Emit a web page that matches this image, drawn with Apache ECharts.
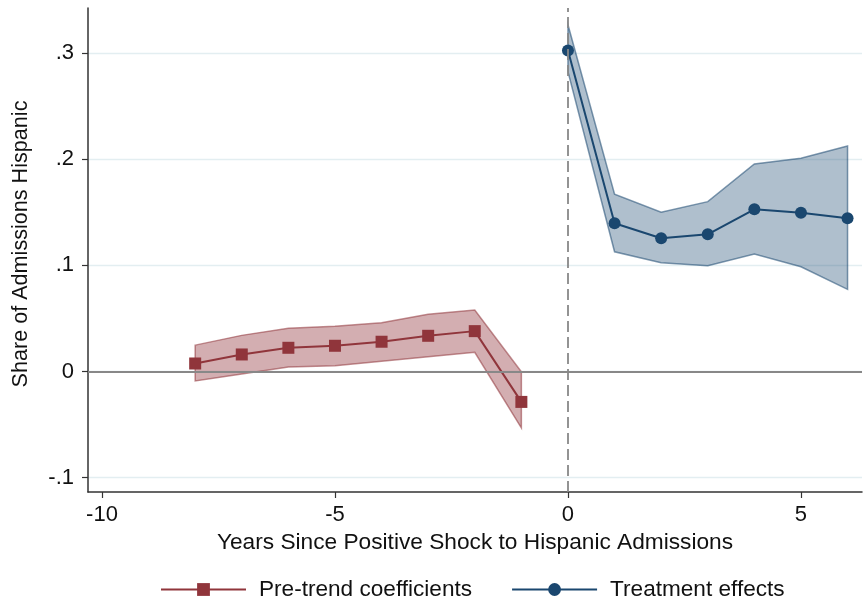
<!DOCTYPE html>
<html>
<head>
<meta charset="utf-8">
<script src="https://cdn.jsdelivr.net/npm/echarts@6/dist/echarts.min.js"></script>
<style>html,body{margin:0;padding:0;background:#fff;}#c{width:868px;height:604px;}</style>
</head>
<body>
<div id="c"></div>
<script>
// Data
var preX = [-8, -7, -6, -5, -4, -3, -2, -1];
var preCoef = [0.0075, 0.016, 0.0223, 0.0242, 0.028, 0.0336, 0.038, -0.0287];
var preUpper = [0.0248, 0.034, 0.0406, 0.0427, 0.0459, 0.0538, 0.0578, -0.0004];
var preLower = [-0.0089, -0.0025, 0.0043, 0.0053, 0.0097, 0.0138, 0.018, -0.0532];

var postX = [0, 1, 2, 3, 4, 5, 6];
var postCoef = [0.3025, 0.1396, 0.1255, 0.1292, 0.1528, 0.1496, 0.1443];
var postUpper = [0.3267, 0.167, 0.150, 0.160, 0.1956, 0.201, 0.2125];
var postLower = [0.2826, 0.1128, 0.1025, 0.0996, 0.1107, 0.0987, 0.0774];

var xTicks = [-10, -5, 0, 5];
var xTickLabels = ['-10', '-5', '0', '5'];
var yTicks = [-0.1, 0, 0.1, 0.2, 0.3];
var yTickLabels = ['-.1', '0', '.1', '.2', '.3'];

var seriesNames = ['Pre-trend coefficients', 'Treatment effects'];

var RED = '#90353b', BLUE = '#1a476f';
var FONT = 'Liberation Sans';

function pairs(xs, ys) { return xs.map(function (x, i) { return [x, ys[i]]; }); }

function bandSeries(name, xs, lo, hi, fill, stroke) {
  return {
    type: 'custom', name: name, silent: true, z: 1,
    data: xs.map(function (x, i) { return [x, lo[i], hi[i]]; }),
    encode: { x: 0, y: [1, 2] },
    renderItem: function (params, api) {
      if (params.dataIndexInside !== 0) return;
      var pts = [];
      for (var i = 0; i < xs.length; i++) pts.push(api.coord([xs[i], hi[i]]));
      for (var j = xs.length - 1; j >= 0; j--) pts.push(api.coord([xs[j], lo[j]]));
      return {
        type: 'polygon',
        shape: { points: pts },
        style: { fill: fill, stroke: stroke, lineWidth: 1.5 }
      };
    }
  };
}

var chart = echarts.init(document.getElementById('c'), null, { renderer: 'canvas' });
chart.setOption({
  animation: false,
  backgroundColor: '#ffffff',
  textStyle: { fontFamily: FONT },
  grid: { left: 88, right: 6, top: 8, bottom: 112, containLabel: false },
  xAxis: {
    type: 'value', min: -10.3, max: 6.31,
    name: 'Years Since Positive Shock to Hispanic Admissions',
    nameLocation: 'middle', nameGap: 34,
    nameTextStyle: { fontSize: 22.7, color: '#111', fontFamily: FONT },
    axisLine: { onZero: false, lineStyle: { color: '#333', width: 1.5 } },
    axisTick: { show: true, length: 6, customValues: xTicks, lineStyle: { color: '#333', width: 1.2 } },
    axisLabel: {
      customValues: xTicks, fontSize: 22, color: '#111', margin: 12, fontFamily: FONT,
      formatter: function (v) { var k = xTicks.indexOf(v); return k >= 0 ? xTickLabels[k] : ''; }
    },
    splitLine: { show: false }
  },
  yAxis: {
    type: 'value', min: -0.1136, max: 0.3425,
    name: 'Share of Admissions Hispanic',
    nameLocation: 'middle', nameGap: 56, nameRotate: 90,
    nameTextStyle: { fontSize: 21.6, color: '#111', fontFamily: FONT, padding: [0, 0, 0, 12] },
    axisLine: { onZero: false, lineStyle: { color: '#333', width: 1.5 } },
    axisTick: { show: true, length: 6, customValues: yTicks, lineStyle: { color: '#333', width: 1.2 } },
    axisLabel: {
      customValues: yTicks, fontSize: 22, color: '#111', margin: 14, fontFamily: FONT,
      formatter: function (v) {
        for (var i = 0; i < yTicks.length; i++) if (Math.abs(yTicks[i] - v) < 1e-9) return yTickLabels[i];
        return '';
      }
    },
    splitLine: { show: true, lineStyle: { color: '#e3eef1', width: 1.3 } }
  },
  legend: {
    data: seriesNames,
    left: 160, top: 578, padding: 0,
    itemWidth: 85, itemHeight: 16, itemGap: 39,
    textStyle: { fontSize: 22.6, color: '#111', fontFamily: FONT, padding: [0, 0, 0, 8] }
  },
  series: [
    bandSeries('preBand', preX, preLower, preUpper, 'rgba(144,53,59,0.4)', 'rgba(144,53,59,0.55)'),
    bandSeries('postBand', postX, postLower, postUpper, 'rgba(26,71,111,0.35)', 'rgba(26,71,111,0.55)'),
    {
      type: 'line', name: seriesNames[0], z: 3,
      data: pairs(preX, preCoef),
      symbol: 'rect', symbolSize: 12,
      lineStyle: { color: RED, width: 2 },
      itemStyle: { color: RED },
      markLine: {
        silent: true, symbol: 'none', label: { show: false },
        lineStyle: { color: '#888', type: 'solid', width: 1.8 },
        data: [{ yAxis: 0 }]
      }
    },
    {
      type: 'line', name: seriesNames[1], z: 3,
      data: pairs(postX, postCoef),
      symbol: 'circle', symbolSize: 12,
      lineStyle: { color: BLUE, width: 2 },
      itemStyle: { color: BLUE },
      markLine: {
        silent: true, symbol: 'none', label: { show: false },
        lineStyle: { color: '#888', type: [11, 5], width: 1.8 },
        data: [{ xAxis: 0 }]
      }
    }
  ]
});
</script>
</body>
</html>
